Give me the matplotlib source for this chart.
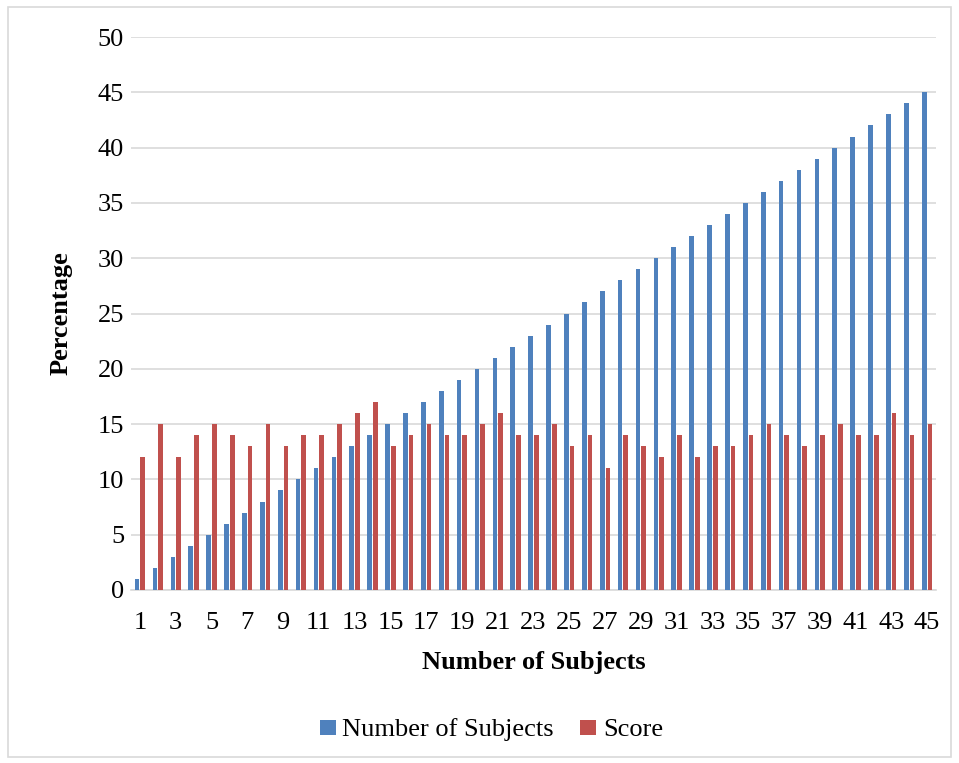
import matplotlib.pyplot as plt
import numpy as np
from matplotlib.patches import Rectangle

subjects = list(range(1, 46))
num_subjects = list(range(1, 46))
score = [12, 15, 12, 14, 15, 14, 13, 15, 13, 14,
         14, 15, 16, 17, 13, 14, 15, 14, 14, 15,
         16, 14, 14, 15, 13, 14, 11, 14, 13, 12,
         14, 12, 13, 13, 14, 15, 14, 13, 14, 15,
         14, 14, 16, 14, 15]

plt.rcParams['font.family'] = ['Liberation Serif', 'DejaVu Serif']

fig = plt.figure(figsize=(9.59, 7.63), dpi=100)
ax = fig.add_axes([131 / 959, 1 - 590 / 763, (936 - 131) / 959, (590 - 37) / 763])

x = np.arange(len(subjects))
w = 0.26
ax.bar(x - 0.16, num_subjects, width=w, color='#4F81BD', label='Number of Subjects', zorder=3)
ax.bar(x + 0.16, score, width=w, color='#C0504D', label='Score', zorder=3)

ax.set_xlim(-0.5, len(subjects) - 0.5)
ax.set_ylim(0, 50)
ax.set_yticks(range(0, 51, 5))
ax.set_xticks(x[::2])
ax.set_xticklabels([str(s) for s in subjects[::2]])
ax.tick_params(axis='both', length=0, labelsize=19)
ax.tick_params(axis='y', pad=5)
ax.tick_params(axis='x', pad=16)
ax.grid(axis='y', color='#D9D9D9', linewidth=1.2, zorder=0)
for s in ['top', 'right', 'left']:
    ax.spines[s].set_visible(False)
ax.spines['bottom'].set_color('#D9D9D9')
ax.spines['bottom'].set_linewidth(1.2)

ax.set_xlabel('Number of Subjects', fontsize=19, fontweight='bold', labelpad=12)
ax.set_ylabel('Percentage', fontsize=19, fontweight='bold', labelpad=18)

fig.legend(loc='center', bbox_to_anchor=(0.5 + 12 / 959, 1 - 730 / 763), ncol=2, frameon=False,
           fontsize=19, handlelength=0.6, handleheight=0.5, handletextpad=0.25,
           columnspacing=1.0)

fig.patches.append(Rectangle((8 / 959, 6 / 763), 943 / 959, 750 / 763, transform=fig.transFigure,
                             fill=False, edgecolor='#D9D9D9', linewidth=1.2))

fig.savefig('out.png', dpi=100)
